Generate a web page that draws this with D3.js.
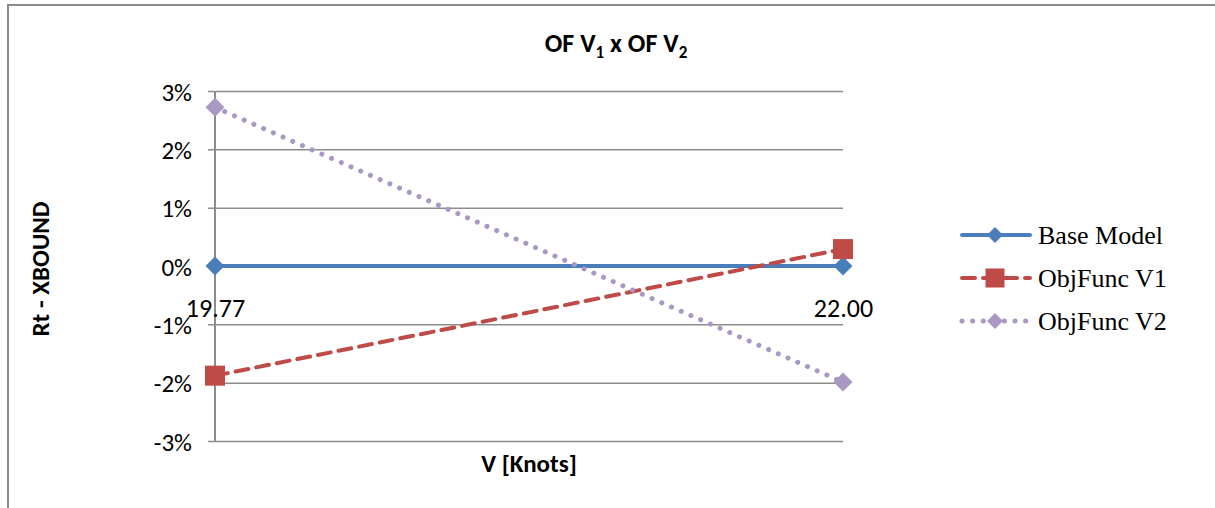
<!DOCTYPE html>
<html>
<head>
<meta charset="utf-8">
<script src="https://cdn.jsdelivr.net/npm/d3@7/dist/d3.min.js"></script>
<style>
  html, body { margin: 0; padding: 0; background: #fff; }
  svg { display: block; }
</style>
</head>
<body>
<svg id="chart" width="1215" height="508"></svg>
<script>
// Speeds on the category axis
const categories = ["19.77", "22.00"];
// Series values, as fractions of Rt
const baseModel = [0.0, 0.0];
const objFuncV1 = [-0.0188, 0.0029];
const objFuncV2 = [0.0272, -0.0199];
const yTicks = [-0.03, -0.02, -0.01, 0, 0.01, 0.02, 0.03];

const series = [
  { name: "Base Model", values: baseModel, color: "#4a7ebb", dash: null, cap: "butt", marker: "diamond", width: 4 },
  { name: "ObjFunc V1", values: objFuncV1, color: "#be4b48", dash: "13,8", cap: "round", marker: "square", width: 4 },
  { name: "ObjFunc V2", values: objFuncV2, color: "#a898c3", dash: "0.1,10.5", cap: "round", marker: "diamond", width: 5 }
];

const svg = d3.select("#chart");
const labelFont = "Carlito, Lato, 'Liberation Sans', sans-serif";
const pct = d => (d < 0 ? "-" : "") + Math.round(Math.abs(d) * 100) + "%";

// Outer frame (left and top edges)
svg.append("path")
  .attr("d", "M8,508 V5 H1215")
  .attr("fill", "none")
  .attr("stroke", "#8c8c8c")
  .attr("stroke-width", 2);

const plot = { left: 215, right: 843, top: 91, bottom: 441 };

const x = d3.scalePoint().domain(categories).range([plot.left, plot.right]);
const y = d3.scaleLinear().domain([-0.03, 0.03]).range([plot.bottom, plot.top]);

// Horizontal gridlines with left tick marks
const yAxis = d3.axisLeft(y)
  .tickValues(yTicks)
  .tickSize(-(plot.right - plot.left))
  .tickFormat(pct)
  .tickPadding(23);

const gy = svg.append("g")
  .attr("transform", `translate(${plot.left},0)`)
  .call(yAxis);
gy.select(".domain").remove();
gy.selectAll(".tick line")
  .attr("x1", -7)
  .attr("stroke", "#8c8c8c")
  .attr("stroke-width", 1.5);
gy.selectAll(".tick text")
  .attr("font-family", labelFont)
  .attr("font-size", 25)
  .attr("fill", "#000")
  .attr("dy", "0.36em");

// Vertical axis line
svg.append("line")
  .attr("x1", plot.left).attr("x2", plot.left)
  .attr("y1", plot.top).attr("y2", plot.bottom)
  .attr("stroke", "#8c8c8c")
  .attr("stroke-width", 2);

// Category labels sit just under the zero line
const xAxis = d3.axisBottom(x).tickSize(0).tickPadding(0);
const gx = svg.append("g")
  .attr("transform", `translate(0,${y(0) + 51})`)
  .call(xAxis);
gx.select(".domain").remove();
gx.selectAll(".tick text")
  .attr("font-family", labelFont)
  .attr("font-size", 26)
  .attr("fill", "#000")
  .attr("dy", 0);

// Series lines and markers
const line = d3.line()
  .x((d, i) => x(categories[i]))
  .y(d => y(d));

function drawMarker(g, type, cx, cy, color, size) {
  if (type === "square") {
    g.append("rect")
      .attr("x", cx - size / 2).attr("y", cy - size / 2)
      .attr("width", size).attr("height", size)
      .attr("fill", color);
  } else {
    const r = size / 2;
    g.append("path")
      .attr("d", `M${cx},${cy - r} L${cx + r},${cy} L${cx},${cy + r} L${cx - r},${cy} Z`)
      .attr("fill", color);
  }
}

series.forEach(s => {
  const g = svg.append("g");
  g.append("path")
    .datum(s.values)
    .attr("d", line)
    .attr("fill", "none")
    .attr("stroke", s.color)
    .attr("stroke-width", s.width)
    .attr("stroke-linecap", s.cap)
    .attr("stroke-dasharray", s.dash);
  s.values.forEach((v, i) => {
    drawMarker(g, s.marker, x(categories[i]), y(v), s.color, s.marker === "square" ? 20 : 19);
  });
});

// Title with subscripts
const title = svg.append("text")
  .attr("x", 616)
  .attr("y", 52)
  .attr("text-anchor", "middle")
  .attr("font-family", labelFont)
  .attr("font-size", 26)
  .attr("font-weight", "bold")
  .attr("fill", "#000");
title.append("tspan").text("OF V");
title.append("tspan").attr("font-size", 17).attr("dy", 6).text("1");
title.append("tspan").attr("dy", -6).text(" x OF V");
title.append("tspan").attr("font-size", 17).attr("dy", 6).text("2");

// Axis titles
svg.append("text")
  .attr("x", 529)
  .attr("y", 472)
  .attr("text-anchor", "middle")
  .attr("font-family", labelFont)
  .attr("font-size", 25)
  .attr("font-weight", "bold")
  .text("V [Knots]");

svg.append("text")
  .attr("transform", "translate(49,269) rotate(-90)")
  .attr("text-anchor", "middle")
  .attr("font-family", labelFont)
  .attr("font-size", 25)
  .attr("font-weight", "bold")
  .text("Rt - XBOUND");

// Legend
const legend = svg.append("g").attr("transform", "translate(960,235)");
series.forEach((s, i) => {
  const ly = i * 43;
  const row = legend.append("g").attr("transform", `translate(0,${ly})`);
  row.append("line")
    .attr("x1", 2).attr("x2", 70)
    .attr("y1", 0).attr("y2", 0)
    .attr("stroke", s.color)
    .attr("stroke-width", s.width)
    .attr("stroke-linecap", "round")
    .attr("stroke-dasharray", s.dash);
  drawMarker(row, s.marker, 35, 0, s.color, s.marker === "square" ? 19 : 16);
  row.append("text")
    .attr("x", 78)
    .attr("y", 9)
    .attr("font-family", "'Liberation Serif', 'Times New Roman', serif")
    .attr("font-size", 26)
    .attr("fill", "#000")
    .text(s.name);
});
</script>
</body>
</html>
